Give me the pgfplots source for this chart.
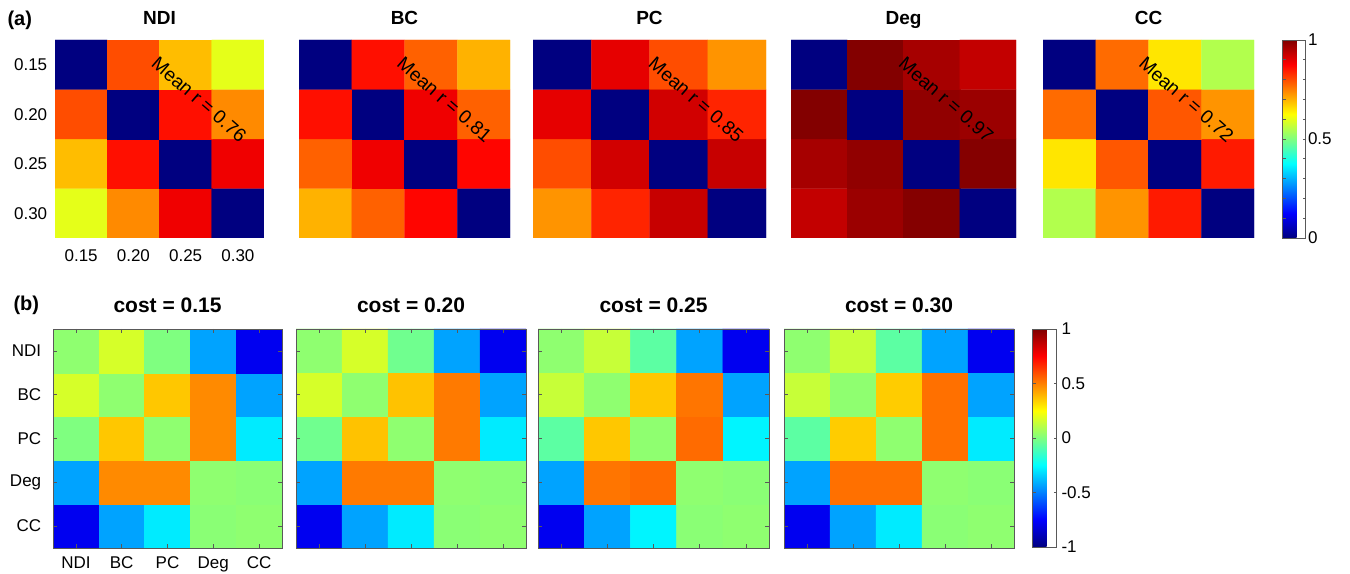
\documentclass[border=0pt]{standalone}
\usepackage{fontspec}
\setmainfont{Liberation Sans}
\usepackage{pgfplots}
\pgfplotsset{compat=1.18}

\newcommand{\tk}{\fontsize{17bp}{20bp}\selectfont}
\newcommand{\ttl}{\fontsize{19bp}{23bp}\selectfont\bfseries}
\newcommand{\bttl}{\fontsize{21bp}{25bp}\selectfont\bfseries}
\newcommand{\mn}{\fontsize{19bp}{22bp}\selectfont}
\newcommand{\pl}{\fontsize{20bp}{24bp}\selectfont\bfseries}

\tikzset{meanr/.style={rotate=-41, font=\mn}}

\pgfplotsset{
  colormap={jetm}{rgb255(0cm)=(0,0,128) rgb255(1cm)=(0,0,255) rgb255(3cm)=(0,255,255)
                  rgb255(5cm)=(255,255,0) rgb255(7cm)=(255,0,0) rgb255(8cm)=(128,0,0)},
  topmap/.style={
    scale only axis, height=198bp, anchor=north west,
    xmin=0.5, xmax=4.5, ymin=0.5, ymax=4.5,
    axis line style={draw=none},
    xtick={1,2,3,4}, ytick={1,2,3,4},
    xticklabels={}, yticklabels={},
    major tick length=0pt,
    tick label style={font=\tk},
    xticklabel style={yshift=-8bp},
    yticklabel style={xshift=-4.3bp},
    colormap name=jetm, point meta min=0, point meta max=1,
    title style={font=\ttl, at={(0.5,1)}, anchor=base, yshift=9.5bp},
  },
  botmap/.style={
    scale only axis, height=219bp, anchor=north west,
    xmin=0.5, xmax=5.5, ymin=0.5, ymax=5.5,
    xtick={1,2,3,4,5}, ytick={1,2,3,4,5},
    xticklabels={}, yticklabels={},
    tick align=inside, xtick pos=both, ytick pos=both,
    major tick length=4bp, axis on top,
    axis line style={black!65, line width=0.6pt},
    tick style={black!65, line width=0.6pt},
    tick label style={font=\tk},
    xticklabel style={yshift=-5.5bp},
    yticklabel style={xshift=-8.3bp},
    colormap name=jetm, point meta min=-1, point meta max=1,
    title style={font=\bttl, at={(0.5,1)}, anchor=base, yshift=10.8bp},
  },
}

\begin{document}
\begin{tikzpicture}
\useasboundingbox (0,0) rectangle (1350bp,574bp);

\node[anchor=base west, font=\pl] at (4bp,548bp) {(a)};
\node[anchor=base west, font=\pl] at (10bp,263bp) {(b)};

% ---------------- (a) agreement across costs ----------------
\begin{axis}[topmap, at={(55bp,534bp)}, width=209bp, title={NDI},
  xticklabels={0.15,0.20,0.25,0.30}, yticklabels={0.30,0.25,0.20,0.15}]
\addplot[matrix plot*, mesh/cols=4, point meta=explicit] table[row sep=\\, meta=c]{
x y c\\
1 1 0.60\\ 2 1 0.74\\ 3 1 0.89\\ 4 1 0\\
1 2 0.69\\ 2 2 0.86\\ 3 2 0\\ 4 2 0.89\\
1 3 0.80\\ 2 3 0\\ 3 3 0.86\\ 4 3 0.74\\
1 4 0\\ 2 4 0.80\\ 3 4 0.69\\ 4 4 0.60\\
};
\node[meanr] at (axis description cs:0.69,0.70) {Mean r = 0.76};
\end{axis}

\begin{axis}[topmap, at={(299bp,534bp)}, width=211bp, title={BC}]
\addplot[matrix plot*, mesh/cols=4, point meta=explicit] table[row sep=\\, meta=c]{
x y c\\
1 1 0.70\\ 2 1 0.78\\ 3 1 0.87\\ 4 1 0\\
1 2 0.78\\ 2 2 0.89\\ 3 2 0\\ 4 2 0.87\\
1 3 0.86\\ 2 3 0\\ 3 3 0.89\\ 4 3 0.78\\
1 4 0\\ 2 4 0.86\\ 3 4 0.78\\ 4 4 0.70\\
};
\node[meanr] at (axis description cs:0.69,0.70) {Mean r = 0.81};
\end{axis}

\begin{axis}[topmap, at={(533bp,534bp)}, width=233bp, title={PC}]
\addplot[matrix plot*, mesh/cols=4, point meta=explicit] table[row sep=\\, meta=c]{
x y c\\
1 1 0.73\\ 2 1 0.84\\ 3 1 0.93\\ 4 1 0\\
1 2 0.80\\ 2 2 0.92\\ 3 2 0\\ 4 2 0.93\\
1 3 0.90\\ 2 3 0\\ 3 3 0.92\\ 4 3 0.84\\
1 4 0\\ 2 4 0.90\\ 3 4 0.80\\ 4 4 0.73\\
};
\node[meanr] at (axis description cs:0.70,0.70) {Mean r = 0.85};
\end{axis}

\begin{axis}[topmap, at={(791bp,534bp)}, width=225bp, title={Deg}]
\addplot[matrix plot*, mesh/cols=4, point meta=explicit] table[row sep=\\, meta=c]{
x y c\\
1 1 0.934\\ 2 1 0.973\\ 3 1 0.995\\ 4 1 0\\
1 2 0.963\\ 2 2 0.983\\ 3 2 0\\ 4 2 0.995\\
1 3 0.997\\ 2 3 0\\ 3 3 0.983\\ 4 3 0.973\\
1 4 0\\ 2 4 0.997\\ 3 4 0.963\\ 4 4 0.934\\
};
\node[meanr] at (axis description cs:0.69,0.70) {Mean r = 0.97};
\end{axis}

\begin{axis}[topmap, at={(1043bp,534bp)}, width=211bp, title={CC},
  colorbar,
  colorbar style={
    scale only axis, width=23bp, height=198bp, title={},
    at={(parent axis.north east)}, anchor=north west, xshift=20bp,
    ytick={0,0.5,1}, yticklabels={0,0.5,1},
    minor ytick={0.1,0.2,0.3,0.4,0.6,0.7,0.8,0.9},
    tick align=inside, ytick pos=both, yticklabel pos=right,
    major tick length=3bp, minor tick length=3bp,
    axis line style={draw=black!65, line width=0.6pt},
    tick style={black!65, line width=0.6pt},
    yticklabel style={font=\tk, xshift=-1bp},
  }]
\addplot[matrix plot*, mesh/cols=4, point meta=explicit] table[row sep=\\, meta=c]{
x y c\\
1 1 0.55\\ 2 1 0.73\\ 3 1 0.85\\ 4 1 0\\
1 2 0.65\\ 2 2 0.79\\ 3 2 0\\ 4 2 0.85\\
1 3 0.77\\ 2 3 0\\ 3 3 0.79\\ 4 3 0.73\\
1 4 0\\ 2 4 0.77\\ 3 4 0.65\\ 4 4 0.55\\
};
\node[meanr] at (axis description cs:0.68,0.70) {Mean r = 0.72};
\end{axis}

% ---------------- (b) correlation between measures ----------------
\begin{axis}[botmap, at={(53bp,245bp)}, width=229bp, title={cost = 0.15},
  xticklabels={NDI,BC,PC,Deg,CC}, yticklabels={CC,Deg,PC,BC,NDI}]
\addplot[matrix plot*, mesh/cols=5, point meta=explicit] table[row sep=\\, meta=c]{
x y c\\
1 1 -0.78\\ 2 1 -0.43\\ 3 1 -0.29\\ 4 1 0.02\\ 5 1 0.03\\
1 2 -0.43\\ 2 2 0.48\\ 3 2 0.48\\ 4 2 0.03\\ 5 2 0.02\\
1 3 0.00\\ 2 3 0.36\\ 3 3 0.03\\ 4 3 0.48\\ 5 3 -0.29\\
1 4 0.17\\ 2 4 0.03\\ 3 4 0.36\\ 4 4 0.48\\ 5 4 -0.43\\
1 5 0.03\\ 2 5 0.17\\ 3 5 0.00\\ 4 5 -0.43\\ 5 5 -0.78\\
};
\end{axis}

\begin{axis}[botmap, at={(296bp,245bp)}, width=230bp, title={cost = 0.20}]
\addplot[matrix plot*, mesh/cols=5, point meta=explicit] table[row sep=\\, meta=c]{
x y c\\
1 1 -0.78\\ 2 1 -0.43\\ 3 1 -0.29\\ 4 1 0.02\\ 5 1 0.03\\
1 2 -0.43\\ 2 2 0.51\\ 3 2 0.51\\ 4 2 0.03\\ 5 2 0.02\\
1 3 -0.03\\ 2 3 0.37\\ 3 3 0.03\\ 4 3 0.51\\ 5 3 -0.29\\
1 4 0.17\\ 2 4 0.03\\ 3 4 0.37\\ 4 4 0.51\\ 5 4 -0.43\\
1 5 0.03\\ 2 5 0.17\\ 3 5 -0.03\\ 4 5 -0.43\\ 5 5 -0.78\\
};
\end{axis}

\begin{axis}[botmap, at={(538bp,245bp)}, width=231bp, title={cost = 0.25}]
\addplot[matrix plot*, mesh/cols=5, point meta=explicit] table[row sep=\\, meta=c]{
x y c\\
1 1 -0.78\\ 2 1 -0.43\\ 3 1 -0.27\\ 4 1 0.02\\ 5 1 0.03\\
1 2 -0.43\\ 2 2 0.52\\ 3 2 0.54\\ 4 2 0.03\\ 5 2 0.02\\
1 3 -0.07\\ 2 3 0.36\\ 3 3 0.03\\ 4 3 0.54\\ 5 3 -0.27\\
1 4 0.14\\ 2 4 0.03\\ 3 4 0.36\\ 4 4 0.52\\ 5 4 -0.43\\
1 5 0.03\\ 2 5 0.14\\ 3 5 -0.07\\ 4 5 -0.43\\ 5 5 -0.78\\
};
\end{axis}

\begin{axis}[botmap, at={(784bp,245bp)}, width=230bp, title={cost = 0.30},
  colorbar,
  colorbar style={
    scale only axis, width=24bp, height=218bp, title={},
    at={(parent axis.north east)}, anchor=north west, xshift=10bp,
    ytick={-1,-0.5,0,0.5,1}, yticklabels={-1,-0.5,0,0.5,1},
    tick align=inside, ytick pos=both, yticklabel pos=right,
    major tick length=3bp,
    axis line style={draw=black!65, line width=0.6pt},
    tick style={black!65, line width=0.6pt},
    yticklabel style={font=\tk, xshift=1.5bp},
  }]
\addplot[matrix plot*, mesh/cols=5, point meta=explicit] table[row sep=\\, meta=c]{
x y c\\
1 1 -0.78\\ 2 1 -0.43\\ 3 1 -0.29\\ 4 1 0.02\\ 5 1 0.03\\
1 2 -0.43\\ 2 2 0.53\\ 3 2 0.53\\ 4 2 0.03\\ 5 2 0.02\\
1 3 -0.07\\ 2 3 0.35\\ 3 3 0.03\\ 4 3 0.53\\ 5 3 -0.29\\
1 4 0.14\\ 2 4 0.03\\ 3 4 0.35\\ 4 4 0.53\\ 5 4 -0.43\\
1 5 0.03\\ 2 5 0.14\\ 3 5 -0.07\\ 4 5 -0.43\\ 5 5 -0.78\\
};
\end{axis}
\end{tikzpicture}
\end{document}
